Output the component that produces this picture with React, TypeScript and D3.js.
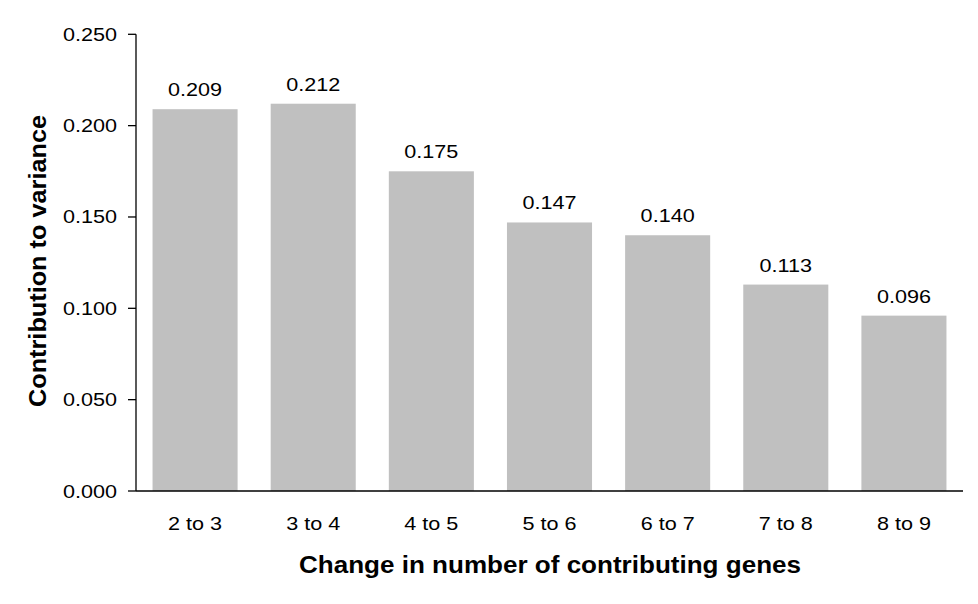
import React from "react";
import * as d3 from "d3";

const categories = ["2 to 3", "3 to 4", "4 to 5", "5 to 6", "6 to 7", "7 to 8", "8 to 9"];
const values = [0.209, 0.212, 0.175, 0.147, 0.14, 0.113, 0.096];
const yTicks = [0, 0.05, 0.1, 0.15, 0.2, 0.25];

const W = 978;
const H = 604;
const left = 136;
const right = 963;
const top = 34.3;
const bottom = 491;
const font = "'Liberation Sans', Arial, sans-serif";
const SX = 1.2;

export default function App() {
  const x = d3.scaleBand<string>().domain(categories).range([left, right]).paddingInner(0.28).paddingOuter(0.14);
  const y = d3.scaleLinear().domain([0, 0.25]).range([bottom, top]);
  const fmt = d3.format(".3f");

  return (
    <svg width={W} height={H} style={{ position: "absolute", left: 0, top: 0, background: "#fff" }}>
      <rect x={0} y={0} width={W} height={H} fill="#fff" />
      {categories.map((c, i) => {
        const cx = (x(c) as number) + x.bandwidth() / 2;
        return (
          <g key={c}>
            <rect x={x(c)} y={y(values[i])} width={x.bandwidth()} height={bottom - y(values[i])} fill="#C0C0C0" />
            <text transform={`translate(${cx}, ${y(values[i]) - 13}) scale(${SX}, 1)`} textAnchor="middle" fontFamily={font} fontSize={18} fill="#000">
              {fmt(values[i])}
            </text>
            <text transform={`translate(${cx}, 529.5) scale(${SX}, 1)`} textAnchor="middle" fontFamily={font} fontSize={18} fill="#000">
              {c}
            </text>
          </g>
        );
      })}
      <line x1={left} x2={left} y1={top} y2={bottom} stroke="#000" strokeWidth={1.3} />
      <line x1={left} x2={right} y1={bottom} y2={bottom} stroke="#000" strokeWidth={1.3} />
      {yTicks.map((t) => (
        <g key={t}>
          <line x1={128} x2={left} y1={y(t)} y2={y(t)} stroke="#000" strokeWidth={1.3} />
          <text transform={`translate(117, ${y(t) + 6.5}) scale(${SX}, 1)`} textAnchor="end" fontFamily={font} fontSize={18} fill="#000">
            {fmt(t)}
          </text>
        </g>
      ))}
      <text x={550} y={573} textAnchor="middle" fontFamily={font} fontSize={23} fontWeight="bold" fill="#000" textLength={502} lengthAdjust="spacingAndGlyphs">
        Change in number of contributing genes
      </text>
      <text transform={`translate(46, 261) rotate(-90)`} textAnchor="middle" fontFamily={font} fontSize={24} fontWeight="bold" fill="#000" textLength={292} lengthAdjust="spacingAndGlyphs">
        Contribution to variance
      </text>
    </svg>
  );
}
